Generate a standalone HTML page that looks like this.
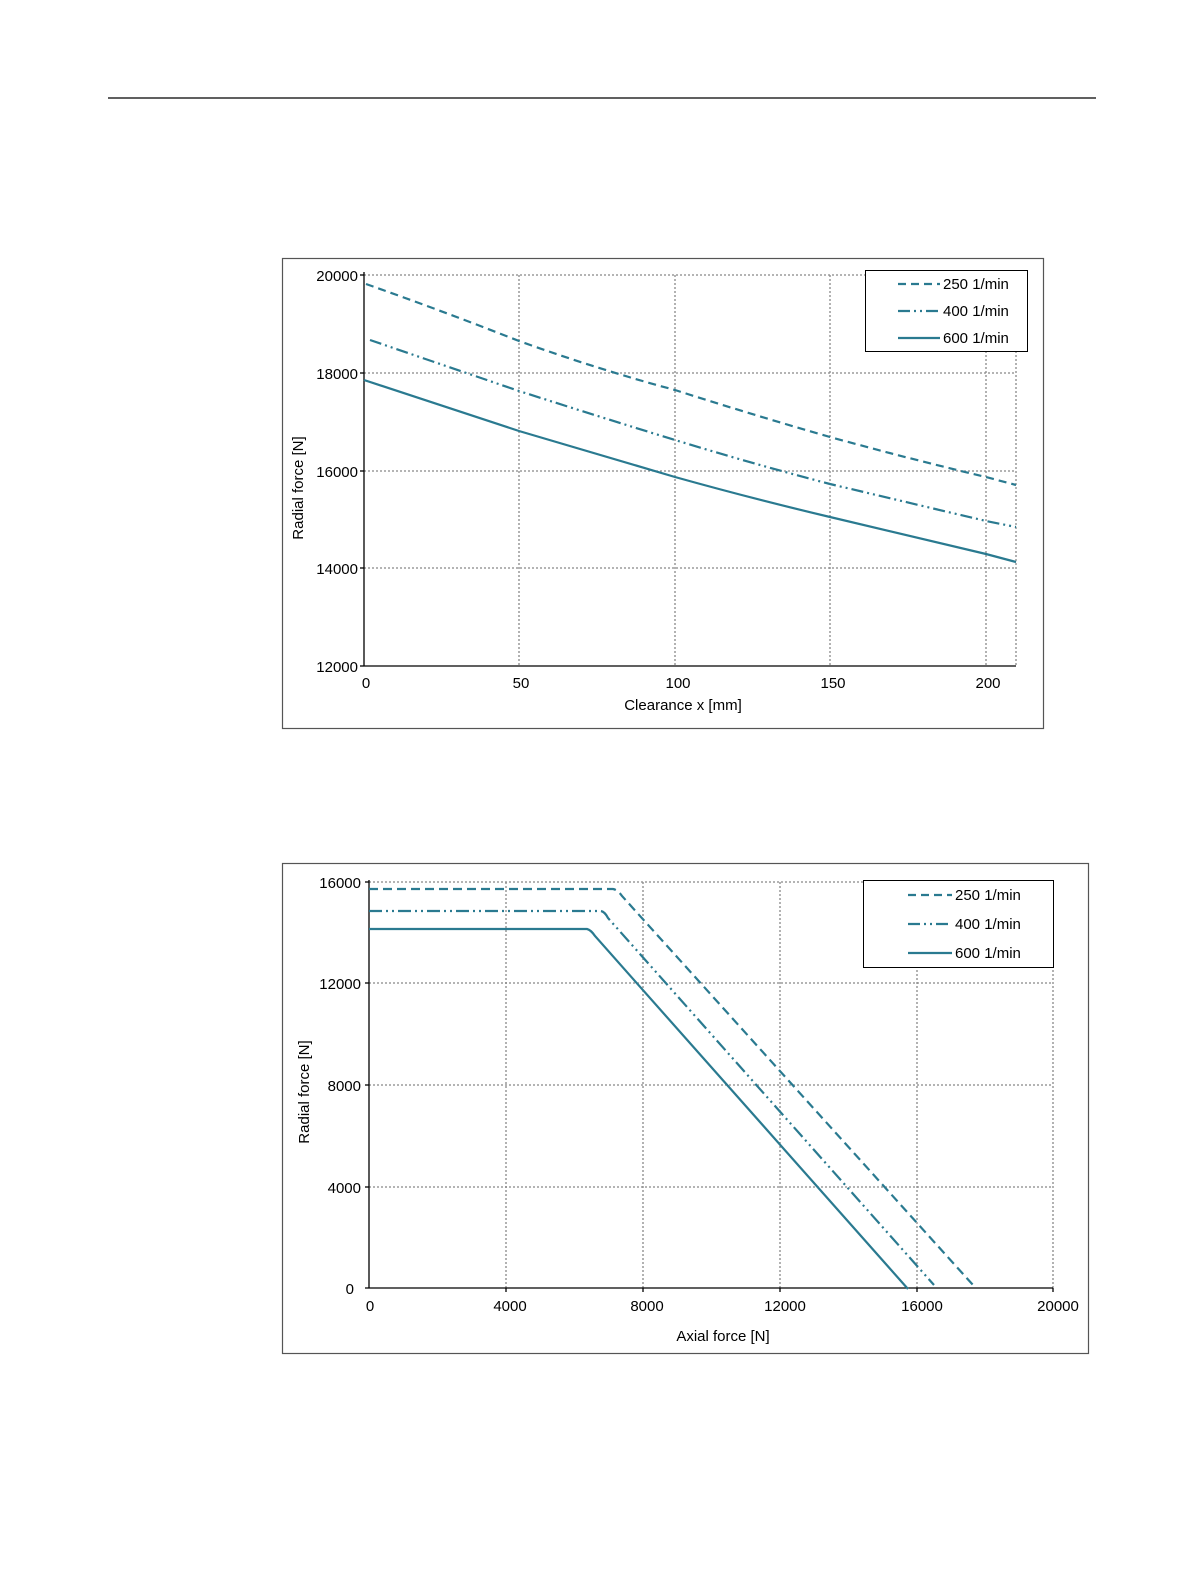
<!DOCTYPE html>
<html><head><style>body{margin:0;background:#fff}</style></head><body>
<svg width="1191" height="1587" xmlns="http://www.w3.org/2000/svg" font-family="Liberation Sans, sans-serif" font-size="15" fill="#000">
<line x1="108" y1="98" x2="1096" y2="98" stroke="#000" stroke-width="1.2"/>
<!-- Chart 1 -->
<rect x="282.5" y="258.5" width="761" height="470" fill="none" stroke="#555" stroke-width="1.2"/>
<g stroke="#888" stroke-width="1.3" stroke-dasharray="2,2">
<line x1="364" y1="275" x2="1016" y2="275"/><line x1="364" y1="373" x2="1016" y2="373"/><line x1="364" y1="471" x2="1016" y2="471"/><line x1="364" y1="568" x2="1016" y2="568"/>
<line x1="519" y1="275" x2="519" y2="666"/><line x1="675" y1="275" x2="675" y2="666"/><line x1="830" y1="275" x2="830" y2="666"/><line x1="986" y1="275" x2="986" y2="666"/><line x1="1016" y1="275" x2="1016" y2="666"/>
</g>
<g stroke="#000" stroke-width="1.3"><line x1="364" y1="272" x2="364" y2="666"/><line x1="364" y1="666" x2="1016" y2="666"/>
<line x1="360" y1="275" x2="364" y2="275"/><line x1="360" y1="373" x2="364" y2="373"/><line x1="360" y1="471" x2="364" y2="471"/><line x1="360" y1="568" x2="364" y2="568"/><line x1="360" y1="666" x2="364" y2="666"/></g>
<g text-anchor="end"><text x="358" y="281">20000</text><text x="358" y="379">18000</text><text x="358" y="477">16000</text><text x="358" y="574">14000</text><text x="358" y="672">12000</text></g>
<g text-anchor="middle"><text x="366" y="688">0</text><text x="521" y="688">50</text><text x="678" y="688">100</text><text x="833" y="688">150</text><text x="988" y="688">200</text>
<text x="683" y="710" font-size="15">Clearance x [mm]</text>
<text transform="translate(303,488) rotate(-90)" font-size="15">Radial force [N]</text></g>
<g fill="none" stroke="#2a7a90" stroke-width="2.2">
<path d="M366,284 Q440,310 519,341 Q600,370 675,390 Q750,414 830,437 Q910,459 986,477 L1016,485" stroke-dasharray="8,5"/>
<path d="M370,340 Q440,364 519,391 Q600,417 675,440 Q750,463 830,484 Q910,503 986,521 L1016,527" stroke-dasharray="12,4,2,4,2,4"/>
<path d="M364,380 Q440,405 519,431 Q600,455 675,477 Q750,498 830,517 Q910,536 986,554 L1016,562"/>
</g>
<rect x="865.5" y="270.5" width="162" height="81" fill="#fff" stroke="#000" stroke-width="1"/>
<g stroke="#2a7a90" stroke-width="2.2"><line x1="898" y1="284" x2="940" y2="284" stroke-dasharray="8,5"/><line x1="898" y1="311" x2="940" y2="311" stroke-dasharray="12,4,2,4,2,4"/><line x1="898" y1="338" x2="940" y2="338"/></g>
<text x="943" y="289">250 1/min</text><text x="943" y="316">400 1/min</text><text x="943" y="343">600 1/min</text>
<!-- Chart 2 -->
<rect x="282.5" y="863.5" width="806" height="490" fill="none" stroke="#555" stroke-width="1.2"/>
<g stroke="#888" stroke-width="1.3" stroke-dasharray="2,2">
<line x1="369" y1="882" x2="1053" y2="882"/><line x1="369" y1="983" x2="1053" y2="983"/><line x1="369" y1="1085" x2="1053" y2="1085"/><line x1="369" y1="1187" x2="1053" y2="1187"/>
<line x1="506" y1="882" x2="506" y2="1288"/><line x1="643" y1="882" x2="643" y2="1288"/><line x1="780" y1="882" x2="780" y2="1288"/><line x1="917" y1="882" x2="917" y2="1288"/><line x1="1053" y1="882" x2="1053" y2="1288"/>
</g>
<g stroke="#000" stroke-width="1.3"><line x1="369" y1="880" x2="369" y2="1288"/><line x1="365" y1="1288" x2="1053" y2="1288"/>
<line x1="365" y1="882" x2="369" y2="882"/><line x1="365" y1="983" x2="369" y2="983"/><line x1="365" y1="1085" x2="369" y2="1085"/><line x1="365" y1="1187" x2="369" y2="1187"/>
<line x1="506" y1="1288" x2="506" y2="1292"/><line x1="643" y1="1288" x2="643" y2="1292"/><line x1="780" y1="1288" x2="780" y2="1292"/><line x1="917" y1="1288" x2="917" y2="1292"/><line x1="1053" y1="1288" x2="1053" y2="1292"/></g>
<g text-anchor="end"><text x="361" y="888">16000</text><text x="361" y="989">12000</text><text x="361" y="1091">8000</text><text x="361" y="1193">4000</text><text x="354" y="1294">0</text></g>
<g text-anchor="middle"><text x="370" y="1311">0</text><text x="510" y="1311">4000</text><text x="647" y="1311">8000</text><text x="785" y="1311">12000</text><text x="922" y="1311">16000</text><text x="1058" y="1311">20000</text>
<text x="723" y="1341" font-size="15">Axial force [N]</text>
<text transform="translate(309,1092) rotate(-90)" font-size="15">Radial force [N]</text></g>
<g fill="none" stroke="#2a7a90" stroke-width="2.2">
<path d="M369,889 L613,889 Q618,890 622,896 L973,1285" stroke-dasharray="9,5"/>
<path d="M369,911 L601,911 Q605,912 608,918 L934,1285" stroke-dasharray="13,4,2,4,2,4"/>
<path d="M369,929 L587,929 Q591,930 595,936 L908,1289"/>
</g>
<rect x="863.5" y="880.5" width="190" height="87" fill="#fff" stroke="#000" stroke-width="1"/>
<g stroke="#2a7a90" stroke-width="2.2"><line x1="908" y1="895" x2="952" y2="895" stroke-dasharray="8,5"/><line x1="908" y1="924" x2="952" y2="924" stroke-dasharray="12,4,2,4,2,4"/><line x1="908" y1="953" x2="952" y2="953"/></g>
<text x="955" y="900">250 1/min</text><text x="955" y="929">400 1/min</text><text x="955" y="958">600 1/min</text>
</svg>
</body></html>
